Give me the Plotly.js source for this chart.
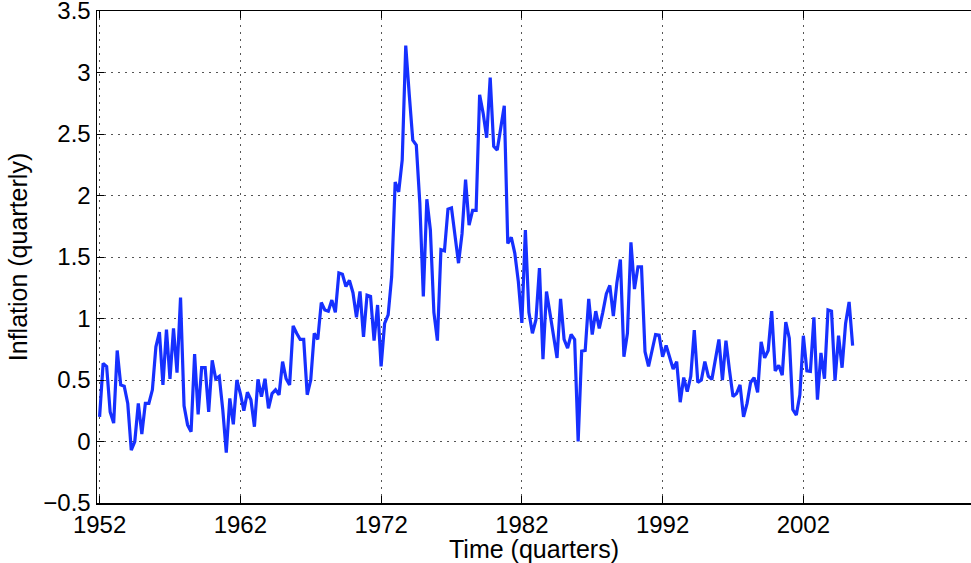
<!DOCTYPE html>
<html>
<head>
<meta charset="utf-8">
<script src="https://cdn.plot.ly/plotly-3.0.1.min.js"></script>
<style>
  html, body { margin: 0; padding: 0; background: #fff; overflow: hidden; }
  #plot { width: 971px; height: 563px; }
</style>
</head>
<body>
<div id="plot"></div>
<script>
// quarterly inflation, 1952Q1 onwards
const startYear = 1952;
const inflation = [
  0.20, 0.635, 0.61, 0.24, 0.15, 0.74, 0.46, 0.45, 0.31, -0.07,
  0.00, 0.31, 0.06, 0.31, 0.31, 0.42, 0.77, 0.89, 0.46, 0.91,
  0.51, 0.92, 0.56, 1.17, 0.29, 0.135, 0.08, 0.71, 0.22, 0.60,
  0.60, 0.24, 0.66, 0.51, 0.53, 0.26, -0.09, 0.35, 0.14, 0.50,
  0.39, 0.25, 0.40, 0.34, 0.12, 0.505, 0.365, 0.51, 0.27, 0.39,
  0.42, 0.38, 0.65, 0.51, 0.46, 0.94, 0.88, 0.83, 0.83, 0.38,
  0.50, 0.88, 0.83, 1.13, 1.07, 1.06, 1.15, 1.05, 1.37, 1.36,
  1.26, 1.31, 1.21, 1.01, 1.22, 0.85, 1.19, 1.18, 0.82, 1.11,
  0.61, 0.96, 1.03, 1.34, 2.11, 2.03, 2.29, 3.22, 2.82, 2.45,
  2.41, 1.94, 1.18, 1.97, 1.72, 1.05, 0.82, 1.56, 1.55, 1.89,
  1.90, 1.67, 1.45, 1.69, 2.13, 1.76, 1.88, 1.88, 2.82, 2.67,
  2.47, 2.96, 2.40, 2.37, 2.55, 2.73, 1.61, 1.66, 1.53, 1.30,
  0.965, 1.72, 1.05, 0.88, 0.99, 1.41, 0.67, 1.22, 1.04, 0.86,
  0.68, 1.16, 0.83, 0.76, 0.87, 0.83, 0.00, 0.735, 0.74, 1.16,
  0.87, 1.06, 0.92, 1.05, 1.20, 1.27, 1.02, 1.29, 1.48, 0.69,
  0.88, 1.62, 1.24, 1.42, 1.42, 0.73, 0.61, 0.74, 0.87, 0.865,
  0.69, 0.78, 0.69, 0.59, 0.65, 0.32, 0.52, 0.405, 0.53, 0.905,
  0.48, 0.50, 0.65, 0.53, 0.505, 0.68, 0.83, 0.50, 0.82, 0.58,
  0.365, 0.39, 0.46, 0.20, 0.31, 0.48, 0.52, 0.40, 0.81, 0.68,
  0.74, 1.06, 0.575, 0.62, 0.54, 0.97, 0.84, 0.26, 0.215, 0.38,
  0.86, 0.575, 0.57, 1.01, 0.34, 0.72, 0.51, 1.07, 1.06, 0.495,
  0.86, 0.60, 0.96, 1.135, 0.78
];
const tickYears = [1952, 1962, 1972, 1982, 1992, 2002];
const yTicks = [-0.5, 0, 0.5, 1, 1.5, 2, 2.5, 3, 3.5];

let time = [];
for (let i = 0; i < inflation.length; i++) {
  time.push(startYear + i / 4);
}

var trace = {
  x: time,
  y: inflation,
  mode: "lines",
  type: "scatter",
  line: { color: "rgb(22,48,255)", width: 3.2 },
  hoverinfo: "skip"
};

var tickFont = { family: "Liberation Sans, Arial, Helvetica, sans-serif", size: 24, color: "#000" };
var titleFont = { family: "Liberation Sans, Arial, Helvetica, sans-serif", size: 25, color: "#000" };

var layout = {
  width: 971,
  height: 563,
  margin: { l: 97, r: 0, t: 11, b: 60 },
  paper_bgcolor: "#fff",
  plot_bgcolor: "#fff",
  showlegend: false,
  font: tickFont,
  xaxis: {
    range: [1951.815, 2013.91],
    tickvals: tickYears,
    ticktext: tickYears.map(String),
    showline: true,
    linecolor: "#000",
    linewidth: 1.5,
    mirror: "ticks",
    ticks: "inside",
    ticklen: 7,
    tickcolor: "#000",
    showgrid: true,
    gridcolor: "#555",
    griddash: "1.5px,5.5px",
    gridwidth: 1,
    zeroline: false,
    tickfont: tickFont,
    ticklabeloverflow: "allow",
    title: { text: "Time (quarters)", font: titleFont, standoff: 0 }
  },
  yaxis: {
    range: [-0.5, 3.5005],
    tickvals: yTicks,
    ticktext: yTicks.map(v => (v < 0 ? "\u2212" + Math.abs(v) : String(v))),
    showline: true,
    linecolor: "#000",
    linewidth: 1.5,
    mirror: false,
    ticks: "inside",
    ticklen: 7,
    tickcolor: "#000",
    showgrid: true,
    gridcolor: "#555",
    griddash: "1.5px,5.5px",
    gridwidth: 1,
    zeroline: false,
    tickfont: tickFont,
    ticklabeloverflow: "allow",
    title: { text: "Inflation (quarterly)", font: titleFont, standoff: 8 }
  }
};

Plotly.newPlot("plot", [trace], layout, { displayModeBar: false, staticPlot: true });
</script>
</body>
</html>
